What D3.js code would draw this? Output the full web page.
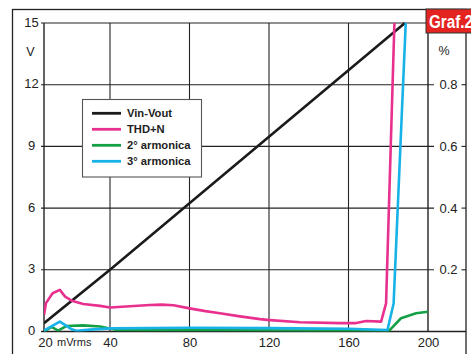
<!DOCTYPE html>
<html>
<head>
<meta charset="utf-8">
<script src="https://cdn.jsdelivr.net/npm/d3@7/dist/d3.min.js"></script>
<style>
  html, body { margin: 0; padding: 0; background: #fff; }
  svg { display: block; }
  text { font-family: "Liberation Sans", Arial, Helvetica, sans-serif; fill: #222; }
</style>
</head>
<body>
<svg id="chart" width="471" height="354"></svg>
<script>
// Input level axis (mVrms) and the two value axes
const xTicks = [20, 40, 80, 120, 160, 200];
const voltTicks = [0, 3, 6, 9, 12, 15];
const pctTicks = [0.2, 0.4, 0.6, 0.8];

// Vin-Vout transfer (V, left axis)
const vinX = [20, 40, 188.4];
const vinV = [0.4, 3.0, 15];

// THD+N (%, right axis)
const thdX = [20, 20.6, 22.6, 24.8, 26.4, 28.4, 31.9, 37, 40, 50, 60, 66, 72, 80, 88, 95.3, 105.4, 115.5, 120.5, 135.6, 155.7, 163.3, 168.8, 176.4, 178.9, 183.1];
const thdPct = [0.053, 0.092, 0.124, 0.135, 0.113, 0.100, 0.089, 0.083, 0.078, 0.082, 0.086, 0.087, 0.085, 0.075, 0.066, 0.059, 0.049, 0.040, 0.037, 0.030, 0.027, 0.027, 0.034, 0.032, 0.091, 1.0];

// 2nd harmonic (%, right axis)
const h2X = [20, 22.3, 24.3, 26.9, 31.8, 37, 43.4, 60, 100, 140, 180.5, 186.4, 194, 200];
const h2Pct = [0, 0.015, 0.003, 0.018, 0.020, 0.016, 0.005, 0.004, 0.004, 0.003, 0.003, 0.043, 0.059, 0.064];

// 3rd harmonic (%, right axis)
const h3X = [20, 24.8, 28.4, 30, 33.9, 40, 80, 120, 160, 179.6, 182.7, 188.8];
const h3Pct = [0.003, 0.032, 0.007, 0.002, 0.006, 0.010, 0.012, 0.011, 0.009, 0.005, 0.091, 1.0];

const legendNames = ["Vin-Vout", "THD+N", "2° armonica", "3° armonica"];
const colors = ["#1c1a1a", "#e8318f", "#16a046", "#17b2e8"];

(function draw() {
  const svg = d3.select("#chart");
  const pLeft = 44, pRight = 428, pTop = 23, pBottom = 331.5;

  // the input axis is drawn with a wider first interval (20 -> 40)
  const x = d3.scaleLinear().domain([20, 40, 200]).range([pLeft, 110, pRight]);
  const yV = d3.scaleLinear().domain([0, 15]).range([pBottom, pTop]);
  const yP = d3.scaleLinear().domain([0, 1]).range([pBottom, pTop]);

  const ink = "#222";

  // outer frame
  svg.append("rect")
    .attr("x", 12.5).attr("y", 9.5).attr("width", 453.5).attr("height", 400)
    .attr("fill", "none").attr("stroke", ink).attr("stroke-width", 1.3);

  // horizontal grid, extending past both plot edges as ticks
  svg.append("g").selectAll("line")
    .data(voltTicks.filter(d => d > 0))
    .join("line")
    .attr("x1", pLeft - 3).attr("x2", d => d === 15 ? pRight : 434)
    .attr("y1", d => yV(d)).attr("y2", d => yV(d))
    .attr("stroke", ink).attr("stroke-width", 1.1);

  // vertical grid
  svg.append("g").selectAll("line")
    .data(xTicks.filter(d => d > 20 && d < 200))
    .join("line")
    .attr("x1", d => x(d)).attr("x2", d => x(d))
    .attr("y1", pTop).attr("y2", pBottom)
    .attr("stroke", ink).attr("stroke-width", 1.1);

  // plot border
  svg.append("line").attr("x1", pLeft).attr("x2", pLeft).attr("y1", pTop).attr("y2", pBottom)
    .attr("stroke", ink).attr("stroke-width", 1.4);
  svg.append("line").attr("x1", pRight).attr("x2", pRight).attr("y1", pTop).attr("y2", pBottom)
    .attr("stroke", ink).attr("stroke-width", 1.4);
  svg.append("line").attr("x1", pLeft - 3).attr("x2", 466).attr("y1", pBottom).attr("y2", pBottom)
    .attr("stroke", ink).attr("stroke-width", 1.4);

  // left axis labels (V)
  svg.append("g").selectAll("text")
    .data(voltTicks)
    .join("text")
    .attr("x", 31.5).attr("y", d => yV(d) - 1)
    .attr("dy", "0.35em")
    .attr("text-anchor", "middle")
    .attr("font-size", 13)
    .text(d => d);
  svg.append("text").attr("x", 30.5).attr("y", 52).attr("dy", "0.35em")
    .attr("text-anchor", "middle").attr("font-size", 12.5).text("V");

  // right axis labels (%)
  const rg = svg.append("g").selectAll("g").data(pctTicks).join("g");
  rg.append("text")
    .attr("x", 448.5).attr("y", d => yP(d))
    .attr("dy", "0.35em").attr("text-anchor", "middle")
    .attr("font-size", 13)
    .text(d => d3.format(".1f")(d));
  rg.append("line")
    .attr("x1", 461.5).attr("x2", 466)
    .attr("y1", d => yP(d)).attr("y2", d => yP(d))
    .attr("stroke", ink).attr("stroke-width", 1.1);
  svg.append("text").attr("x", 444).attr("y", 51).attr("dy", "0.35em")
    .attr("text-anchor", "middle").attr("font-size", 12.5).text("%");

  // bottom axis labels
  const xAxis = d3.axisBottom(x).tickValues(xTicks).tickSize(0).tickPadding(6)
    .tickFormat(d3.format("d"));
  const xg = svg.append("g").attr("transform", `translate(0,${pBottom})`).call(xAxis);
  xg.select(".domain").remove();
  xg.selectAll("text").attr("font-size", 13).attr("fill", ink)
    .style("font-family", '"Liberation Sans", Arial, sans-serif');
  xg.selectAll(".tick").filter(d => d === 20).select("text").attr("dx", 1);
  svg.append("text").attr("x", 57).attr("y", 345.5).attr("font-size", 11).text("mVrms");

  // series
  svg.append("clipPath").attr("id", "plotClip")
    .append("rect").attr("x", pLeft).attr("y", pTop - 2)
    .attr("width", pRight - pLeft).attr("height", pBottom - pTop + 2);

  const series = [
    { xs: vinX, ys: vinV, y: yV, color: colors[0] },
    { xs: h2X, ys: h2Pct, y: yP, color: colors[2] },
    { xs: h3X, ys: h3Pct, y: yP, color: colors[3] },
    { xs: thdX, ys: thdPct, y: yP, color: colors[1] }
  ];
  const lines = svg.append("g").attr("clip-path", "url(#plotClip)");
  series.forEach(s => {
    const pts = s.xs.map((v, i) => [v, s.ys[i]]);
    lines.append("path")
      .datum(pts)
      .attr("fill", "none")
      .attr("stroke", s.color)
      .attr("stroke-width", 2.6)
      .attr("stroke-linejoin", "round")
      .attr("d", d3.line().x(d => x(d[0])).y(d => s.y(d[1])));
  });

  // legend
  const lg = svg.append("g");
  lg.append("rect").attr("x", 82.5).attr("y", 99.5).attr("width", 119).attr("height", 77.5)
    .attr("fill", "#fff").attr("stroke", "#555").attr("stroke-width", 1.1);
  const rows = lg.selectAll("g.row").data(legendNames).join("g").attr("class", "row")
    .attr("transform", (d, i) => `translate(0,${113.3 + i * 16})`);
  rows.append("line").attr("x1", 92).attr("x2", 121).attr("y1", 0).attr("y2", 0)
    .attr("stroke", (d, i) => colors[i]).attr("stroke-width", 2.8);
  rows.append("text").attr("x", 127).attr("y", 0).attr("dy", "0.35em")
    .attr("font-size", 11.2).attr("font-weight", "bold").text(d => d);

  // chart tag
  svg.append("rect").attr("x", 426).attr("y", 9).attr("width", 50).attr("height", 24)
    .attr("fill", "#e32420").attr("stroke", "#333").attr("stroke-width", 1);
  svg.append("text").attr("transform", "translate(429,27.5) scale(0.8,1)")
    .attr("font-size", 19).attr("font-weight", "bold").style("fill", "#fff")
    .text("Graf.2");
})();
</script>
</body>
</html>
